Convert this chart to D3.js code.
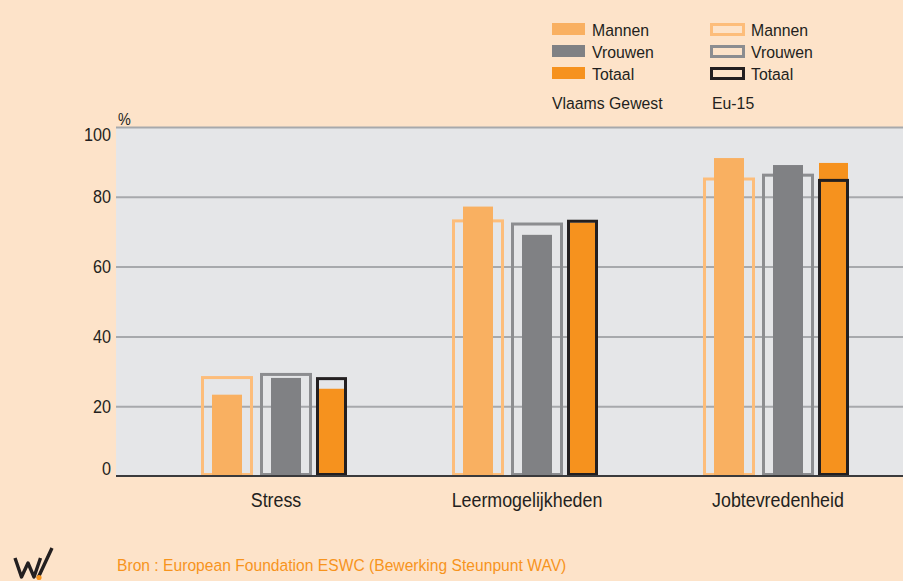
<!DOCTYPE html>
<html>
<head>
<meta charset="utf-8">
<script src="https://cdn.jsdelivr.net/npm/d3@7"></script>
<style>
  body { margin: 0; background: #fde3c9; }
  svg { display: block; }
  text { font-family: "Liberation Sans", Arial, sans-serif; fill: #231f20; }
</style>
</head>
<body>
<div id="chart"></div>
<script>
// data
var categories = ["Stress", "Leermogelijkheden", "Jobtevredenheid"];
var series = ["Mannen", "Vrouwen", "Totaal"];
var vlaamsMannen = [23.3, 77.2, 91.1];
var vlaamsVrouwen = [28.1, 69.1, 89.1];
var vlaamsTotaal = [25.0, 72.6, 89.7];
var euMannen = [28.2, 73.1, 85.1];
var euVrouwen = [29.1, 72.2, 86.2];
var euTotaal = [27.9, 73.0, 84.7];
var yTicks = [0, 20, 40, 60, 80, 100];

var svgWidth = 903;
var svgHeight = 581;

var plot = { left: 116, right: 903, top: 127, bottom: 476 };

var fillColor = { Mannen: "#f9b061", Vrouwen: "#808184", Totaal: "#f6921e" };
var lineColor = { Mannen: "#fdbd7a", Vrouwen: "#8c8d90", Totaal: "#231f20" };

// the original font is a condensed helvetica, squeeze liberation sans a bit
function narrowText(sel, x, y, size, sx) {
  return sel.append("text")
    .attr("transform", `translate(${x},${y}) scale(${sx},1)`)
    .attr("font-size", size);
}

var svg = d3.select("#chart").append("svg")
  .attr("width", svgWidth)
  .attr("height", svgHeight);

svg.append("rect")
  .attr("width", svgWidth).attr("height", svgHeight)
  .attr("fill", "#fde3c9");

// scales
var yScale = d3.scaleLinear().domain([0, 100]).range([plot.bottom, plot.top]);
var xScale = d3.scalePoint().domain(categories).range([274, 776]);
// offset of each series inside a group
var subX = d3.scaleOrdinal().domain(series).range([-47, 12, 57.5]);
var outlineW = d3.scaleOrdinal().domain(series).range([52, 52, 31]);
var fillW = d3.scaleOrdinal().domain(series).range([30, 30, 29]);

// plot background
svg.append("rect")
  .attr("x", plot.left).attr("y", plot.top)
  .attr("width", plot.right - plot.left)
  .attr("height", plot.bottom - plot.top)
  .attr("fill", "#e5e6e8");

// grid
var yAxis = d3.axisLeft(yScale).tickValues(yTicks)
  .tickSize(-(plot.right - plot.left)).tickFormat("");
var yG = svg.append("g")
  .attr("transform", `translate(${plot.left},0)`)
  .call(yAxis);
yG.select(".domain").remove();
yG.selectAll(".tick line")
  .attr("stroke", "#a7a9ac").attr("stroke-width", 2);
yG.selectAll(".tick").filter(d => d === 0).select("line").remove();

// tick labels, 0 and 100 are nudged inside like in the original
yTicks.forEach(function(t) {
  var dy = t === 100 ? 14 : (t === 0 ? -1 : 6.5);
  narrowText(svg, 111, yScale(t) + dy, 18, 0.9)
    .attr("text-anchor", "end")
    .text(t);
});

narrowText(svg, 118, 125, 16, 0.9).text("%");

// bars
var vlaams = { Mannen: vlaamsMannen, Vrouwen: vlaamsVrouwen, Totaal: vlaamsTotaal };
var eu = { Mannen: euMannen, Vrouwen: euVrouwen, Totaal: euTotaal };

var rows = [];
categories.forEach(function(c, i) {
  series.forEach(function(s) {
    rows.push({ cat: c, s: s, vl: vlaams[s][i], eu: eu[s][i] });
  });
});

function drawOutline(sel) {
  sel.append("rect")
    .attr("x", d => xScale(d.cat) + subX(d.s) - outlineW(d.s) / 2 + 1.5)
    .attr("y", d => yScale(d.eu))
    .attr("width", d => outlineW(d.s) - 3)
    .attr("height", d => yScale(0) - yScale(d.eu) - 1.5)
    .attr("fill", "none")
    .attr("stroke", d => lineColor[d.s])
    .attr("stroke-width", 3);
}

var barG = svg.append("g");
// Mannen / Vrouwen: outline behind, fill on top
var mv = rows.filter(d => d.s !== "Totaal");
drawOutline(barG.selectAll(null).data(mv).enter());
barG.selectAll(null).data(rows).enter().append("rect")
  .attr("x", d => xScale(d.cat) + subX(d.s) - fillW(d.s) / 2)
  .attr("y", d => yScale(d.vl))
  .attr("width", d => fillW(d.s))
  .attr("height", d => yScale(0) - yScale(d.vl))
  .attr("fill", d => fillColor[d.s]);
// Totaal outline on top
drawOutline(barG.selectAll(null).data(rows.filter(d => d.s === "Totaal")).enter());

// baseline
svg.append("line")
  .attr("x1", plot.left).attr("x2", plot.right)
  .attr("y1", yScale(0)).attr("y2", yScale(0))
  .attr("stroke", "#3a3a3c").attr("stroke-width", 2);

// category labels
categories.forEach(function(c) {
  narrowText(svg, xScale(c) + 2, 506.5, 20.5, 0.87)
    .attr("text-anchor", "middle")
    .text(c);
});

// legend
var legY = d3.scalePoint().domain(series).range([29, 73]);
series.forEach(function(s) {
  svg.append("rect")
    .attr("x", 552).attr("y", legY(s) - 6)
    .attr("width", 33).attr("height", 12)
    .attr("fill", fillColor[s]);
  narrowText(svg, 592, legY(s) + 6.5, 17, 0.93).text(s);
  svg.append("rect")
    .attr("x", 711.5).attr("y", legY(s) - 4.5)
    .attr("width", 32).attr("height", 10)
    .attr("fill", "none")
    .attr("stroke", lineColor[s]).attr("stroke-width", 3);
  narrowText(svg, 751, legY(s) + 6.5, 17, 0.93).text(s);
});
narrowText(svg, 552, 109, 17, 0.93).text("Vlaams Gewest");
narrowText(svg, 712, 109, 17, 0.93).text("Eu-15");

// source
narrowText(svg, 117, 570.5, 17, 0.92)
  .style("fill", "#f7941d")
  .text("Bron : European Foundation ESWC (Bewerking Steunpunt WAV)");

// logo
var logo = svg.append("g");
logo.append("path")
  .attr("d", "M15,558 L21.5,577 L28,563 L34,577 L40.5,558 M38,578 L52,548")
  .attr("fill", "none").attr("stroke", "#231f20").attr("stroke-width", 3.4)
  .attr("stroke-linejoin", "round");
logo.append("circle")
  .attr("cx", 39).attr("cy", 577.5).attr("r", 2.6)
  .attr("fill", "#f7941d");
</script>
</body>
</html>
